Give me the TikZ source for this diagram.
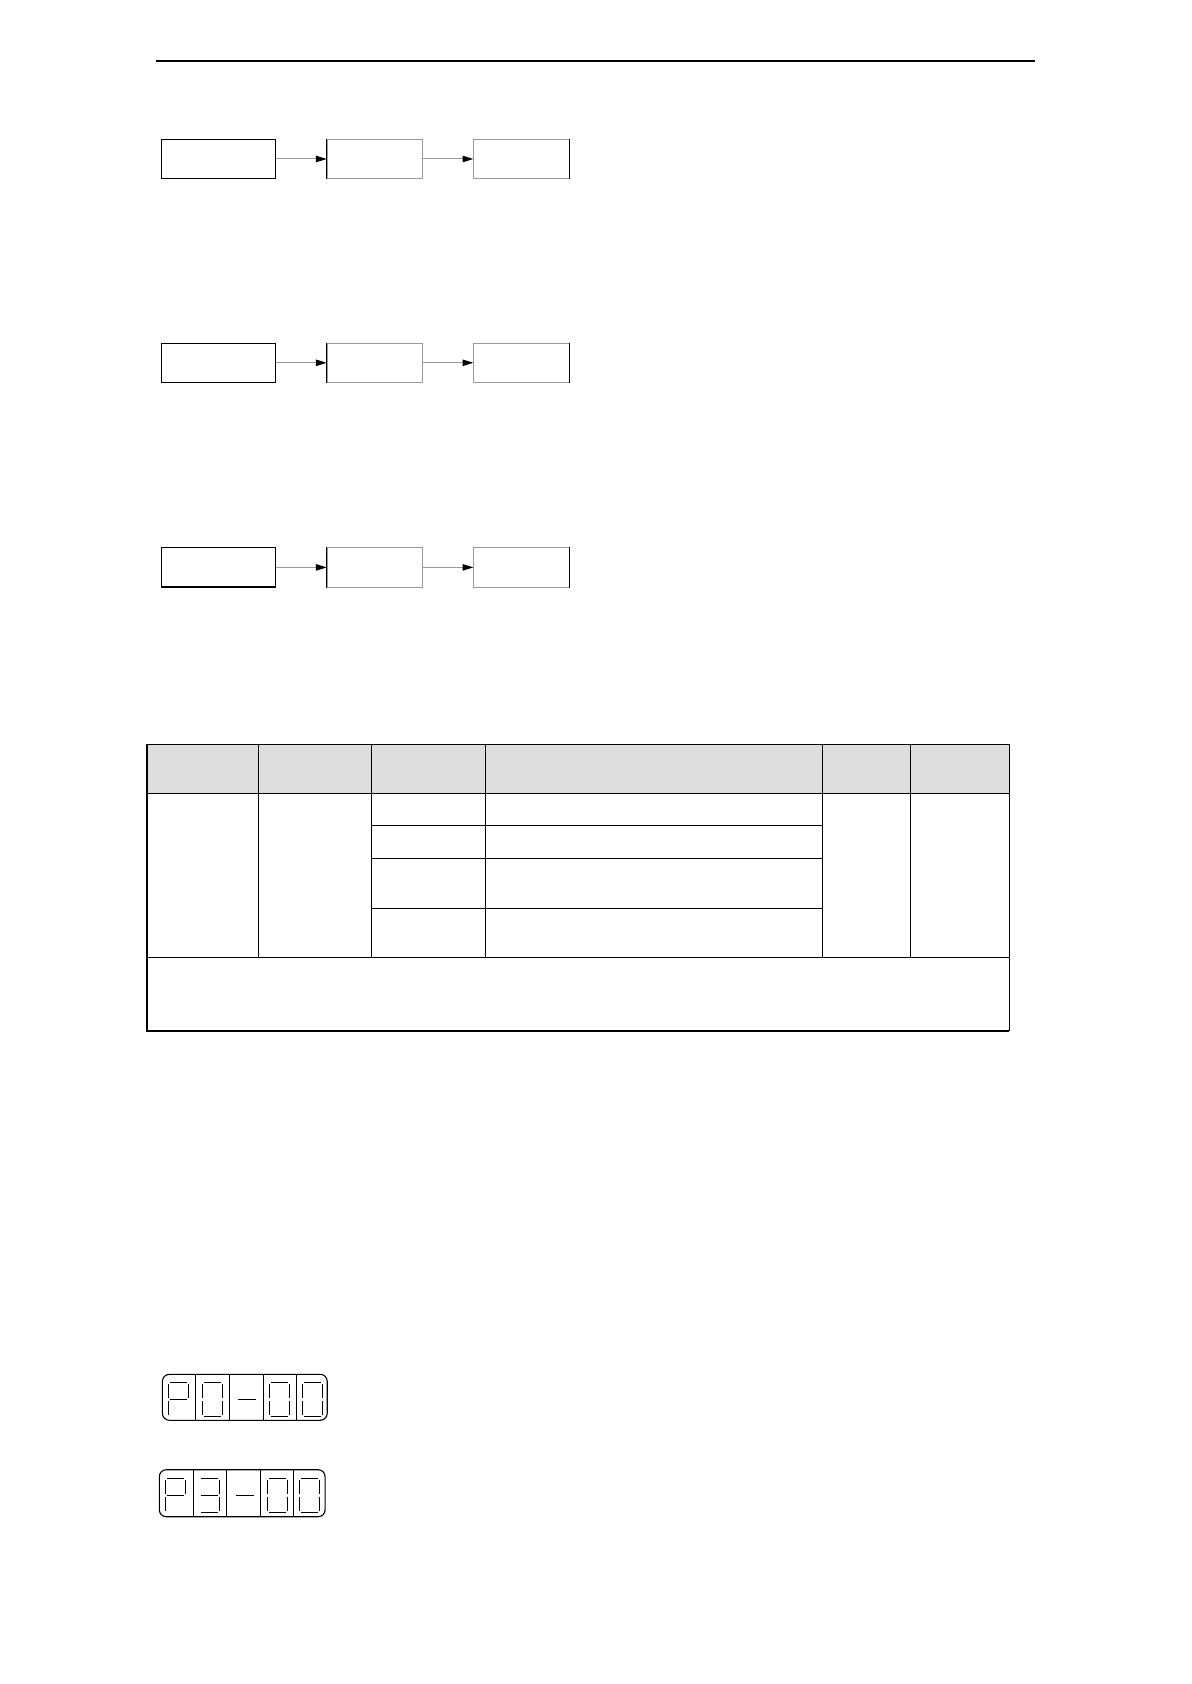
\documentclass[tikz,border=0pt]{standalone}
\usepackage{tikz}
\usetikzlibrary{positioning, arrows.meta}

\definecolor{headgray}{RGB}{221,221,221}
\definecolor{boxgray}{RGB}{155,155,155}

% seven segment digits, x1/y1/x2/y2 inside one cell
\newcommand{\dispP}{8/8.5/25/8.5, 6.5/10/6.5/24, 26.5/10/26.5/24, 8/25.5/25/25.5, 6.5/27/6.5/41}
\newcommand{\dispZero}{8/8.5/25/8.5, 6.5/10/6.5/24, 26.5/10/26.5/24, 6.5/27/6.5/41, 26.5/27/26.5/41, 8/42.5/25/42.5}
\newcommand{\dispThree}{8/8.5/25/8.5, 26.5/10/26.5/24, 8/25.5/25/25.5, 26.5/27/26.5/41, 8/42.5/25/42.5}
\newcommand{\dispDash}{9/25.5/27/25.5}

\begin{document}
\begin{tikzpicture}[x=0.5pt, y=-0.5pt,
  main box/.style={draw, inner sep=0pt, minimum height=19.6pt},
  start box/.style={main box, line width=0.65pt, minimum width=57pt},
  next box/.style={main box, draw=boxgray, line width=0.5pt, minimum width=47.6pt},
  flow/.style={draw=boxgray, line width=0.5pt, -{Triangle[length=5.4pt, width=3.2pt, color=black]}},
  tab line/.style={line width=0.6pt},
  tab frame/.style={line width=1.1pt},
  seg line/.style={line width=0.55pt},
  display/.style={draw, line width=0.55pt, rounded corners=3.5pt, inner sep=0pt}]

\useasboundingbox (0,0) rectangle (1191,1684);

\draw[line width=1pt] (156,61) -- (1035,61);

% three flow rows
\foreach \r/\y in {1/159, 2/362.8, 3/567.4}{
  \node[start box] (A\r) at (218.7,\y) {};
  \node[next box] (B\r) [right=25.2pt of A\r] {};
  \node[next box] (C\r) [right=25.2pt of B\r] {};
  \draw[line width=0.6pt] (B\r.north west) -- (B\r.south west);
  \draw[line width=0.6pt] (C\r.north east) -- (C\r.south east);
  \path[flow] (A\r) edge (B\r)
              (B\r) edge (C\r);
}

% table
\fill[headgray] (147.3,744.3) rectangle (1009.3,793.3);
\draw[tab line] (147.3,793.3) -- (1009.3,793.3);
\draw[tab line] (147.3,957.3) -- (1009.3,957.3);
\foreach \x in {258.3, 371.3, 485.3, 822.3, 910.3}
  \draw[tab line] (\x,744.3) -- (\x,957.3);
\foreach \y in {825.3, 858.3, 908.3}
  \draw[tab line] (371.3,\y) -- (822.3,\y);
\draw[tab line] (147.3,744.3) -- (1009.3,744.3) -- (1009.3,1030.7);
\draw[tab frame] (147.3,744.3) -- (147.3,1030.7) -- (1009.3,1030.7);

% displays
\node[display, minimum width=82.4pt, minimum height=23pt] (D1) at (244.8,1397.3) {};
\node[display, minimum width=82.9pt, minimum height=23.5pt] (D2) at (242.2,1493.2) {};
\foreach \x in {195.7, 229.3, 263.3, 296.3}
  \draw[seg line] (\x,1374.3) -- (\x,1420.3);
\foreach \x in {193.3, 226.7, 260.7, 293.3}
  \draw[seg line] (\x,1469.7) -- (\x,1516.7);

\foreach \cx/\cy/\dig in {162.3/1374.3/P, 195.7/1374.3/Zero, 229.3/1374.3/Dash, 263.3/1374.3/Zero, 296.3/1374.3/Zero,
                          159.3/1469.7/P, 193.3/1469.7/Three, 226.7/1469.7/Dash, 260.7/1469.7/Zero, 293.3/1469.7/Zero}{
  \edef\seglist{\csname disp\dig\endcsname}
  \foreach \a/\b/\c/\d in \seglist
    \draw[seg line] (\cx+\a,\cy+\b) -- (\cx+\c,\cy+\d);
}

\end{tikzpicture}
\end{document}
